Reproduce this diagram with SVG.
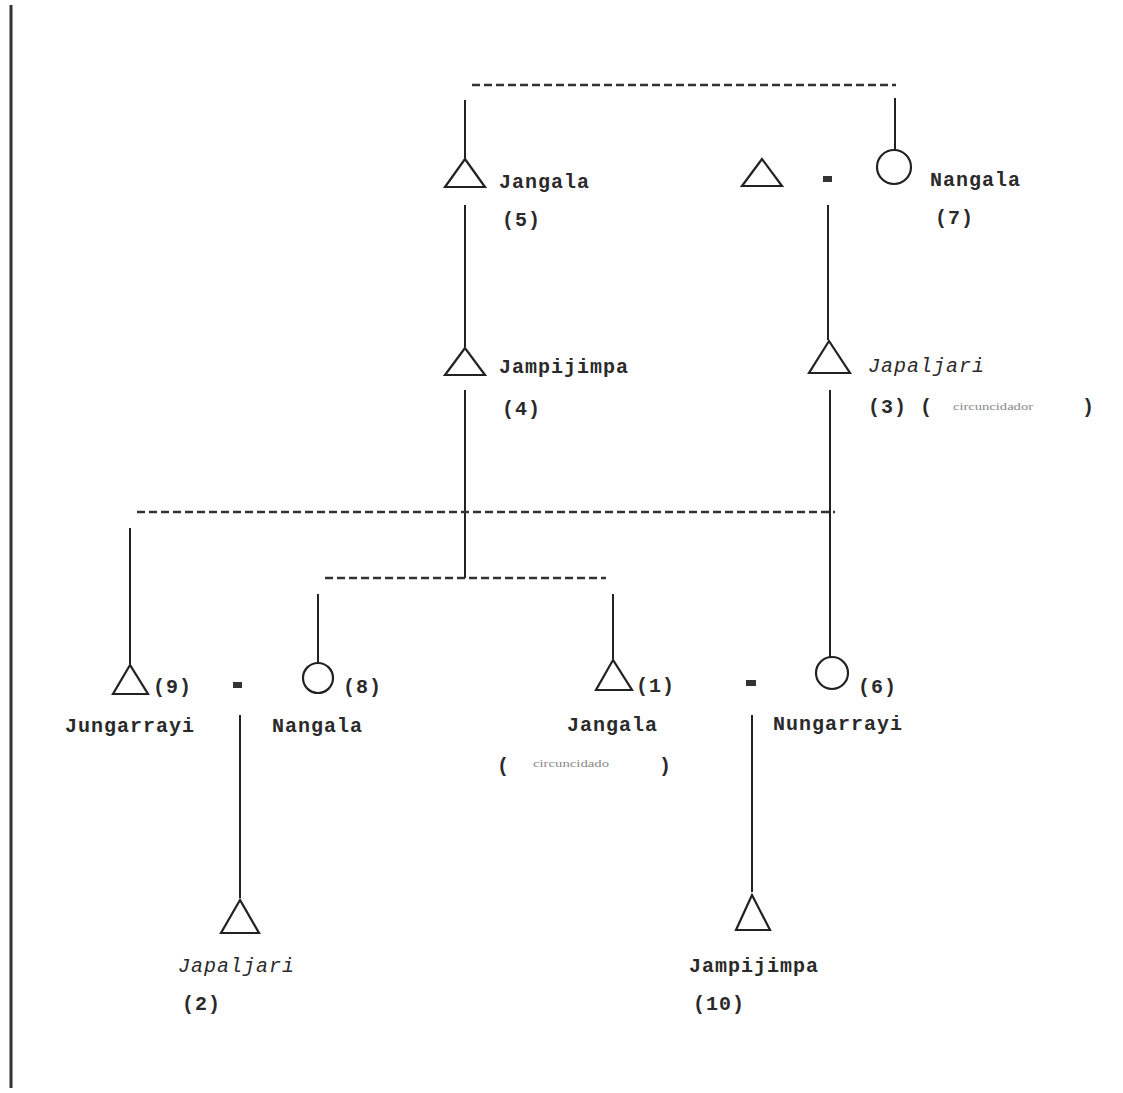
<svg xmlns="http://www.w3.org/2000/svg" width="1123" height="1093" viewBox="0 0 1123 1093">
  <style>
    .ln { stroke: #222; stroke-width: 2; fill: none; }
    .dash { stroke: #333; stroke-width: 2.5; stroke-dasharray: 8 4; fill: none; }
    .sym { stroke: #222; stroke-width: 2.2; fill: none; }
    .t { font-family: "Liberation Mono", "DejaVu Sans Mono", monospace; font-size: 20px; font-weight: bold; fill: #2a2a2a; letter-spacing: 1px; }
    .it { font-style: italic; font-weight: normal; }
    .sm { font-family: "Liberation Serif", serif; font-size: 11px; fill: #888; }
    .eq { fill: #333; }
  </style>
  <rect width="1123" height="1093" fill="#fff"/>
  <!-- page margin rule -->
  <line x1="11" y1="5" x2="11" y2="1088" stroke="#333" stroke-width="3"/>

  <!-- connectors -->
  <g id="connectors">
    <line class="dash" x1="472" y1="85" x2="896" y2="85"/>
    <line class="ln" x1="465" y1="100" x2="465" y2="158"/>
    <line class="ln" x1="895" y1="98" x2="895" y2="150"/>
    <line class="ln" x1="465" y1="205" x2="465" y2="347"/>
    <line class="ln" x1="828" y1="205" x2="828" y2="340"/>
    <line class="ln" x1="465" y1="390" x2="465" y2="578"/>
    <line class="ln" x1="830" y1="390" x2="830" y2="657"/>
    <line class="dash" x1="137" y1="512" x2="835" y2="512"/>
    <line class="dash" x1="325" y1="578" x2="606" y2="578"/>
    <line class="ln" x1="130" y1="528" x2="130" y2="664"/>
    <line class="ln" x1="318" y1="594" x2="318" y2="663"/>
    <line class="ln" x1="613" y1="594" x2="613" y2="659"/>
    <line class="ln" x1="240" y1="715" x2="240" y2="898"/>
    <line class="ln" x1="752" y1="715" x2="752" y2="892"/>
  </g>

  <!-- marriage signs -->
  <g id="marriages">
    <rect class="eq" x="823" y="176" width="9" height="6"/>
    <rect class="eq" x="233" y="682" width="9" height="6"/>
    <rect class="eq" x="746" y="680" width="10" height="6"/>
  </g>

  <g id="n5">
    <path class="sym" d="M465,159 L445,187 L485,187 Z"/>
    <text class="t" x="499" y="188">Jangala</text>
    <text class="t" x="502" y="226">(5)</text>
  </g>
  <g id="n-husband7">
    <path class="sym" d="M762,159 L742,186 L782,186 Z"/>
  </g>
  <g id="n7">
    <circle class="sym" cx="894" cy="167" r="17"/>
    <text class="t" x="930" y="186">Nangala</text>
    <text class="t" x="935" y="224">(7)</text>
  </g>
  <g id="n4">
    <path class="sym" d="M465,348 L445,375 L485,375 Z"/>
    <text class="t" x="499" y="373">Jampijimpa</text>
    <text class="t" x="502" y="415">(4)</text>
  </g>
  <g id="n3">
    <path class="sym" d="M829,341 L809,373 L850,373 Z"/>
    <text class="t it" x="868" y="372">Japaljari</text>
    <text class="t" x="868" y="413">(3) (</text>
    <text class="sm" x="953" y="410" textLength="80" lengthAdjust="spacingAndGlyphs">circuncidador</text>
    <text class="t" x="1082" y="413">)</text>
  </g>
  <g id="n9">
    <path class="sym" d="M130,665 L113,694 L148,694 Z"/>
    <text class="t" x="153" y="693">(9)</text>
    <text class="t" x="65" y="732">Jungarrayi</text>
  </g>
  <g id="n8">
    <circle class="sym" cx="318" cy="678" r="15"/>
    <text class="t" x="343" y="693">(8)</text>
    <text class="t" x="272" y="732">Nangala</text>
  </g>
  <g id="n1">
    <path class="sym" d="M613,660 L596,690 L632,690 Z"/>
    <text class="t" x="636" y="692">(1)</text>
    <text class="t" x="567" y="731">Jangala</text>
    <text class="t" x="497" y="772">(</text>
    <text class="sm" x="533" y="767" textLength="76" lengthAdjust="spacingAndGlyphs">circuncidado</text>
    <text class="t" x="659" y="772">)</text>
  </g>
  <g id="n6">
    <circle class="sym" cx="832" cy="673" r="16"/>
    <text class="t" x="858" y="693">(6)</text>
    <text class="t" x="773" y="730">Nungarrayi</text>
  </g>
  <g id="n2">
    <path class="sym" d="M240,900 L221,933 L259,933 Z"/>
    <text class="t it" x="178" y="972">Japaljari</text>
    <text class="t" x="182" y="1010">(2)</text>
  </g>
  <g id="n10">
    <path class="sym" d="M752,895 L736,930 L770,930 Z"/>
    <text class="t" x="689" y="972">Jampijimpa</text>
    <text class="t" x="693" y="1010">(10)</text>
  </g>
</svg>
